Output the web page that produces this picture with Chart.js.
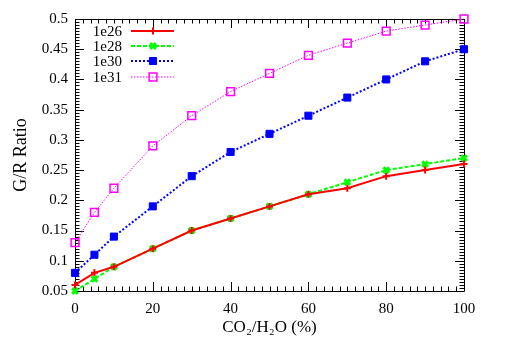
<!DOCTYPE html>
<html>
<head>
<meta charset="utf-8">
<script src="https://cdn.jsdelivr.net/npm/chart.js@4/dist/chart.umd.min.js"></script>
<style>
html,body{margin:0;padding:0;background:#fff;}
#wrap{width:506px;height:354px;position:relative;}
</style>
</head>
<body>
<div id="wrap"><canvas id="c" width="506" height="354"></canvas></div>
<script>
// ---- data ----
const xValues = [0, 5, 10, 20, 30, 40, 50, 60, 70, 80, 90, 100];
const series1e26 = [0.06, 0.08, 0.09, 0.12, 0.15, 0.17, 0.19, 0.21, 0.22, 0.24, 0.25, 0.26];
const series1e28 = [0.05, 0.07, 0.09, 0.12, 0.15, 0.17, 0.19, 0.21, 0.23, 0.25, 0.26, 0.27];
const series1e30 = [0.08, 0.11, 0.14, 0.19, 0.24, 0.28, 0.31, 0.34, 0.37, 0.40, 0.43, 0.45];
const series1e31 = [0.13, 0.18, 0.22, 0.29, 0.34, 0.38, 0.41, 0.44, 0.46, 0.48, 0.49, 0.50];
const seriesLabels = ['1e26', '1e28', '1e30', '1e31'];
const xTickValues = [0, 20, 40, 60, 80, 100];
const yTickValues = [0.05, 0.1, 0.15, 0.2, 0.25, 0.3, 0.35, 0.4, 0.45, 0.5];
const xTitle = 'CO\u2082/H\u2082O (%)';
const yTitle = 'G/R Ratio';

const FONT = '"Liberation Serif", "Times New Roman", serif';

function pts(vals) { return xValues.map((x, i) => ({x: x, y: vals[i]})); }

const datasets = [
  {label: seriesLabels[0], data: pts(series1e26), borderColor: '#ff0000', backgroundColor: '#ff0000',
   borderWidth: 2, borderDash: [], pointStyle: 'cross', pointRadius: 3.5, pointBorderWidth: 2, pointBorderColor: '#ff0000'},
  {label: seriesLabels[1], data: pts(series1e28), borderColor: '#00ff00', backgroundColor: '#00ff00',
   borderWidth: 2, borderDash: [4, 2], pointStyle: 'crossRot', pointRadius: 4, pointBorderWidth: 3, pointBorderColor: '#00ff00'},
  {label: seriesLabels[2], data: pts(series1e30), borderColor: '#0000ff', backgroundColor: '#0000ff',
   borderWidth: 2, borderDash: [2, 2], pointStyle: 'rect', pointRadius: 5, pointBorderWidth: 1, pointBorderColor: '#0000ff', pointBackgroundColor: '#0000ff'},
  {label: seriesLabels[3], data: pts(series1e31), borderColor: '#ff00ff', backgroundColor: 'rgba(0,0,0,0)',
   borderWidth: 1, borderDash: [1.5, 1.5], pointStyle: 'rect', pointRadius: 5.5, pointBorderWidth: 1.5, pointBorderColor: '#ff00ff', pointBackgroundColor: 'rgba(0,0,0,0)'}
];
datasets.forEach(d => { d.fill = false; d.tension = 0; d.clip = false; });

const framePlugin = {
  id: 'frame',
  beforeDatasetsDraw(chart) {
    const ctx = chart.ctx, a = chart.chartArea;
    const xs = chart.scales.x, ys = chart.scales.y;
    ctx.save();
    ctx.strokeStyle = '#000';
    ctx.lineWidth = 1;
    ctx.beginPath();
    // x ticks (major every 20, minor every 2)
    for (let v = xs.min; v <= xs.max + 1e-9; v += 2) {
      const major = Math.abs(v % 20) < 1e-9;
      const len = major ? 9 : 4.5;
      const px = Math.round(xs.getPixelForValue(v)) + 0.5;
      ctx.moveTo(px, a.bottom); ctx.lineTo(px, a.bottom - len);
      ctx.moveTo(px, a.top); ctx.lineTo(px, a.top + len);
    }
    // y ticks (major every 0.05, minor every 0.005)
    for (let k = 0; k <= 90; k++) {
      const v = ys.min + k * 0.005;
      const major = k % 10 === 0;
      const len = major ? 9 : 4.5;
      const py = Math.round(ys.getPixelForValue(v)) + 0.5;
      ctx.moveTo(a.left, py); ctx.lineTo(a.left + len, py);
      ctx.moveTo(a.right, py); ctx.lineTo(a.right - len, py);
    }
    ctx.stroke();
    ctx.beginPath();
    ctx.rect(Math.round(a.left) + 0.5, Math.round(a.top) + 0.5, Math.round(a.right - a.left), Math.round(a.bottom - a.top));
    ctx.stroke();
    ctx.restore();
  },
  afterDatasetsDraw(chart) {
    const ctx = chart.ctx;
    const textRight = 122, lineL = 131, lineR = 174, markX = 153;
    const rowY = [31, 46, 61, 77];
    ctx.save();
    chart.data.datasets.forEach((d, i) => {
      const y = rowY[i];
      ctx.font = '15px ' + FONT;
      ctx.fillStyle = '#000';
      ctx.textAlign = 'right';
      ctx.textBaseline = 'middle';
      ctx.fillText(d.label, textRight, y + 1);
      ctx.strokeStyle = d.borderColor;
      ctx.lineWidth = d.borderWidth;
      ctx.setLineDash(d.borderDash || []);
      ctx.beginPath();
      ctx.moveTo(lineL, y); ctx.lineTo(lineR, y);
      ctx.stroke();
      ctx.setLineDash([]);
      ctx.strokeStyle = d.pointBorderColor;
      ctx.fillStyle = d.pointBackgroundColor || d.pointBorderColor;
      ctx.lineWidth = d.pointBorderWidth;
      Chart.helpers.drawPoint(ctx, {pointStyle: d.pointStyle, radius: d.pointRadius, rotation: 0, borderWidth: d.pointBorderWidth}, markX, y);
    });
    ctx.restore();
  }
};

new Chart(document.getElementById('c'), {
  type: 'line',
  data: {datasets: datasets},
  options: {
    responsive: false,
    animation: false,
    devicePixelRatio: 1,
    layout: {padding: {top: 19, right: 42, left: 0, bottom: 0}},
    plugins: {legend: {display: false}, tooltip: {enabled: false}},
    scales: {
      x: {
        type: 'linear', min: 0, max: 100,
        afterBuildTicks(s) { s.ticks = xTickValues.map(v => ({value: v})); },
        afterFit(s) { s.height = 63; },
        grid: {display: false, drawTicks: false},
        border: {display: false},
        ticks: {padding: 9, color: '#000', font: {family: FONT, size: 15}, maxRotation: 0, autoSkip: false},
        title: {display: true, text: xTitle, color: '#000', font: {family: FONT, size: 17}, padding: {top: 0, bottom: 16}}
      },
      y: {
        type: 'linear', min: 0.05, max: 0.5,
        afterBuildTicks(s) { s.ticks = yTickValues.map(v => ({value: v})); },
        afterFit(s) { s.width = 75; },
        grid: {display: false, drawTicks: false},
        border: {display: false},
        ticks: {padding: 7, color: '#000', font: {family: FONT, size: 15}, autoSkip: false,
          callback: v => String(Number(v.toFixed(3)))},
        title: {display: true, text: yTitle, color: '#000', font: {family: FONT, size: 18}, padding: {top: 10, bottom: 0}}
      }
    }
  },
  plugins: [framePlugin]
});
</script>
</body>
</html>
